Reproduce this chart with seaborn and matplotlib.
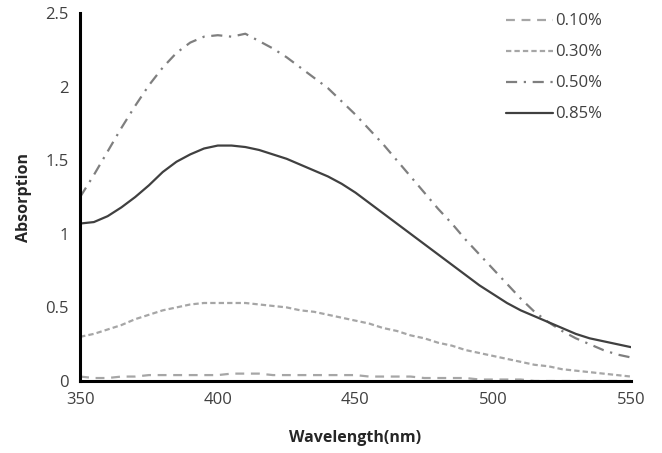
import matplotlib
matplotlib.use("Agg")
import matplotlib.pyplot as plt
import seaborn as sns
import pandas as pd
from matplotlib.ticker import FuncFormatter

# Wavelength grid (nm) and absorption
wavelength = list(range(350, 551, 5))

abs_010 = [0.03, 0.02, 0.02, 0.03, 0.03, 0.04, 0.04, 0.04, 0.04, 0.04, 0.04,
           0.05, 0.05, 0.05, 0.04, 0.04, 0.04, 0.04, 0.04, 0.04, 0.04,
           0.03, 0.03, 0.03, 0.03, 0.02, 0.02, 0.02, 0.02, 0.01, 0.01,
           0.01, 0.01, 0.00, 0.00, 0.00, 0.00, 0.00, 0.00, 0.00, 0.00]
abs_030 = [0.30, 0.32, 0.35, 0.38, 0.42, 0.45, 0.48, 0.50, 0.52, 0.53, 0.53,
           0.53, 0.53, 0.52, 0.51, 0.50, 0.48, 0.47, 0.45, 0.43, 0.41,
           0.39, 0.36, 0.34, 0.31, 0.29, 0.26, 0.24, 0.21, 0.19, 0.17,
           0.15, 0.13, 0.11, 0.10, 0.08, 0.07, 0.06, 0.05, 0.04, 0.03]
abs_050 = [1.25, 1.40, 1.56, 1.72, 1.87, 2.01, 2.13, 2.23, 2.30, 2.34, 2.35,
           2.34, 2.36, 2.31, 2.26, 2.20, 2.13, 2.06, 1.99, 1.90, 1.81,
           1.71, 1.61, 1.50, 1.39, 1.28, 1.17, 1.07, 0.96, 0.86, 0.76,
           0.66, 0.56, 0.47, 0.40, 0.34, 0.29, 0.25, 0.21, 0.18, 0.16]
abs_085 = [1.07, 1.08, 1.12, 1.18, 1.25, 1.33, 1.42, 1.49, 1.54, 1.58, 1.60,
           1.60, 1.59, 1.57, 1.54, 1.51, 1.47, 1.43, 1.39, 1.34, 1.28,
           1.21, 1.14, 1.07, 1.00, 0.93, 0.86, 0.79, 0.72, 0.65, 0.59,
           0.53, 0.48, 0.44, 0.40, 0.36, 0.32, 0.29, 0.27, 0.25, 0.23]

labels = ["0.10%", "0.30%", "0.50%", "0.85%"]
series = [abs_010, abs_030, abs_050, abs_085]
colors = ["#a6a6a6", "#a6a6a6", "#7f7f7f", "#404040"]
dashes = [(4, 3), (2.4, 1.4), (5, 3, 1, 3), None]

sns.set_style("white")
plt.rcParams["font.family"] = ["Open Sans", "DejaVu Sans"]

fig = plt.figure(figsize=(6.62, 4.53), dpi=100)
ax = fig.add_axes([0.121, 0.159, 0.832, 0.812])

for lab, vals, col, ds in zip(labels, series, colors, dashes):
    df = pd.DataFrame({"Wavelength": wavelength, "Absorption": vals})
    sns.lineplot(data=df, x="Wavelength", y="Absorption", ax=ax,
                 color=col, linewidth=1.6, label=lab)
    if ds is not None:
        ax.lines[-1].set_dashes(ds)

ax.set_xlim(350, 550)
ax.set_ylim(0, 2.5)
ax.set_xticks([350, 400, 450, 500, 550])
ax.set_yticks([0, 0.5, 1, 1.5, 2, 2.5])
ax.yaxis.set_major_formatter(FuncFormatter(lambda v, p: f"{v:g}"))

for side in ["top", "right"]:
    ax.spines[side].set_visible(False)
for side in ["left", "bottom"]:
    ax.spines[side].set_color("black")
    ax.spines[side].set_linewidth(2.2)

ax.tick_params(axis="y", direction="out", length=4, width=1.5, color="black",
               labelsize=12, labelcolor="#404040", pad=4)
ax.tick_params(axis="x", length=0, labelsize=12, labelcolor="#404040", pad=8)

ax.set_xlabel("Wavelength(nm)", fontsize=11.5, fontweight="bold", labelpad=16)
ax.set_ylabel("Absorption", fontsize=11.5, fontweight="bold", labelpad=10)

leg = ax.legend(loc="upper right", frameon=False, fontsize=12,
                handlelength=2.8, handletextpad=0.15, labelspacing=0.9,
                bbox_to_anchor=(0.975, 1.04))
for t in leg.get_texts():
    t.set_color("#404040")

fig.savefig("out.png", dpi=100)
